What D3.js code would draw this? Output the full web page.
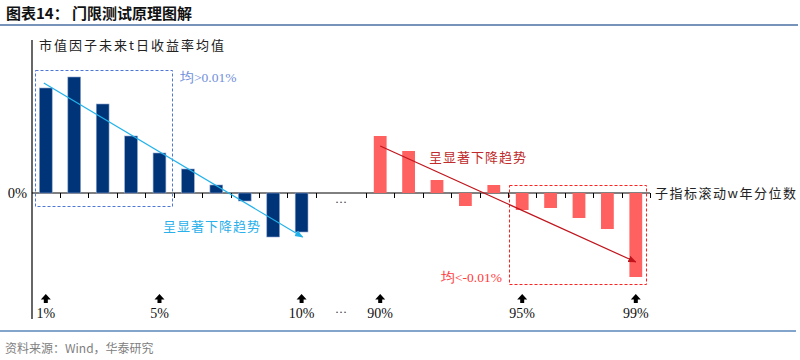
<!DOCTYPE html>
<html><head><meta charset="utf-8">
<script src="https://cdn.jsdelivr.net/npm/d3@7/dist/d3.min.js"></script>
<style>
html,body{margin:0;padding:0;background:#fff;}
svg{display:block;}
</style></head>
<body>
<script>
// ---- data ----
const blueCats = ["1%","2%","3%","4%","5%","6%","7%","8%","9%","10%"];
const blueValues = [0.105, 0.116, 0.089, 0.057, 0.040, 0.024, 0.008, -0.008, -0.044, -0.039];
const redCats = ["90%","91%","92%","93%","94%","95%","96%","97%","98%","99%"];
const redValues = [0.057, 0.042, 0.013, -0.013, 0.008, -0.017, -0.015, -0.025, -0.036, -0.084];
const markerLabels = ["1%","5%","10%","90%","95%","99%"];
const blueTrend = [{c:"1%", v:0.110}, {c:"10%", v:-0.044}];
const redTrend = [{c:"90%", v:0.047}, {c:"99%", v:-0.069}];
const yTickLabels = ["0%"];

const W = 800, H = 360;
const svg = d3.select("body").append("svg").attr("width", W).attr("height", H);
const CJK = "'Noto Sans CJK SC', 'Noto Sans', sans-serif";
const SERIF = "'Liberation Serif', 'DejaVu Serif', serif";
const px = v => Math.round(v) + 0.5;

// Title
svg.append("text").attr("x", 6).attr("y", 19)
  .attr("font-family", CJK).attr("font-weight", "bold").attr("font-size", 15)
  .attr("fill", "#111").text("图表14：  门限测试原理图解");
svg.append("line").attr("x1", 0).attr("x2", 798).attr("y1", 25).attr("y2", 25)
  .attr("stroke", "#4b6fa3").attr("stroke-width", 1.5);

// Scales
const y = d3.scaleLinear().domain([-0.126, 0.153]).range([319, 40]);
const xBlue = d3.scaleBand().domain(blueCats).range([31.6, 315.8]).paddingInner(0.55).paddingOuter(0.275);
const xRed = d3.scaleBand().domain(redCats).range([366, 650]).paddingInner(0.55).paddingOuter(0.275);
const cx = (s, c) => s(c) + s.bandwidth() / 2;

// Axes lines
svg.append("line").attr("x1", 32).attr("x2", 32).attr("y1", y.range()[1]).attr("y2", y.range()[0])
  .attr("stroke", "#000").attr("stroke-width", 1.2);
svg.append("line").attr("x1", 32).attr("x2", 650).attr("y1", y(0)).attr("y2", y(0))
  .attr("stroke", "#000").attr("stroke-width", 1);

// ticks at band boundaries
function ticks(s, withStart) {
  const step = s.step();
  const arr = s.domain().map(c => cx(s, c) + step / 2);
  if (withStart) arr.unshift(cx(s, s.domain()[0]) - step / 2);
  return arr;
}
const tickX = ticks(xBlue, false).concat(ticks(xRed, true));
svg.selectAll(".tk").data(tickX).enter().append("line")
  .attr("x1", d => px(d)).attr("x2", d => px(d)).attr("y1", y(0)).attr("y2", y(0) + 5)
  .attr("stroke", "#000").attr("stroke-width", 1);

// Y labels
svg.append("text").attr("x", 27).attr("y", y(0) + 5)
  .attr("text-anchor", "end")
  .attr("font-family", SERIF).attr("font-size", 14.5).attr("fill", "#111").text(yTickLabels[0]);
svg.append("text").attr("x", 39).attr("y", 50)
  .attr("font-family", CJK).attr("font-size", 13).attr("letter-spacing", 2)
  .attr("fill", "#222").text("市值因子未来t日收益率均值");
svg.append("text").attr("x", 655).attr("y", y(0) + 5)
  .attr("font-family", CJK).attr("font-size", 13).attr("letter-spacing", 1.5)
  .attr("fill", "#222").text("子指标滚动w年分位数");

// Bars
svg.selectAll(".bb").data(blueCats).enter().append("rect")
  .attr("x", d => xBlue(d)).attr("width", xBlue.bandwidth())
  .attr("y", (d, i) => y(Math.max(0, blueValues[i])))
  .attr("height", (d, i) => Math.abs(y(blueValues[i]) - y(0)))
  .attr("fill", "#003478").attr("stroke", "#8fa6cf").attr("stroke-width", 0.6);
svg.selectAll(".rb").data(redCats).enter().append("rect")
  .attr("x", d => xRed(d)).attr("width", xRed.bandwidth())
  .attr("y", (d, i) => y(Math.max(0, redValues[i])))
  .attr("height", (d, i) => Math.abs(y(redValues[i]) - y(0)))
  .attr("fill", "#ff6161");

// ellipsis in gap
const gapX = (xBlue.range()[1] + xRed.range()[0]) / 2;
svg.append("text").attr("x", gapX).attr("y", y(0) + 13).attr("text-anchor", "middle")
  .attr("font-family", SERIF).attr("font-size", 12).attr("fill", "#333").text("···");

// Dashed boxes
function box(x0, x1, y0, y1, color) {
  const a = px(x0), b = px(x1), c = px(y0), d = px(y1);
  svg.append("rect").attr("x", a).attr("y", c).attr("width", b - a).attr("height", d - c)
    .attr("fill", "none").attr("stroke", color).attr("stroke-width", 1).attr("stroke-dasharray", "3,2");
}
box(xBlue(blueCats[0]) - 4, xBlue(blueCats[4]) + xBlue.bandwidth() + 6, y(0.123), y(-0.0127), "#4f78d6");
box(xRed(redCats[5]) - 7, xRed(redCats[9]) + xRed.bandwidth() + 4, y(0.008), y(-0.091), "#ff2020");

// Box labels
svg.append("text").attr("x", 180).attr("y", 82)
  .attr("font-family", SERIF).attr("font-size", 13.5).attr("fill", "#6f8fdb").text("均>0.01%");
svg.append("text").attr("x", 441).attr("y", 282)
  .attr("font-family", SERIF).attr("font-size", 13.5).attr("fill", "#ff3b3b").text("均<-0.01%");

// Trend arrows
const defs = svg.append("defs");
function marker(id, color) {
  defs.append("marker").attr("id", id).attr("viewBox", "0 0 10 10").attr("refX", 9).attr("refY", 5)
    .attr("markerWidth", 7).attr("markerHeight", 7).attr("orient", "auto")
    .append("path").attr("d", "M0,1 L10,5 L0,9 Z").attr("fill", color);
}
marker("ab", "#22b2ea");
marker("ar", "#c0151c");
svg.append("line")
  .attr("x1", cx(xBlue, blueTrend[0].c) - 2).attr("y1", y(blueTrend[0].v))
  .attr("x2", cx(xBlue, blueTrend[1].c) + 1).attr("y2", y(blueTrend[1].v))
  .attr("stroke", "#22b2ea").attr("stroke-width", 1.2).attr("marker-end", "url(#ab)");
svg.append("line")
  .attr("x1", cx(xRed, redTrend[0].c)).attr("y1", y(redTrend[0].v))
  .attr("x2", cx(xRed, redTrend[1].c)).attr("y2", y(redTrend[1].v))
  .attr("stroke", "#c0151c").attr("stroke-width", 1.2).attr("marker-end", "url(#ar)");

svg.append("text").attr("x", 163).attr("y", 231)
  .attr("font-family", CJK).attr("font-size", 13).attr("letter-spacing", 1)
  .attr("fill", "#2ab0ea").text("呈显著下降趋势");
svg.append("text").attr("x", 429).attr("y", 162)
  .attr("font-family", CJK).attr("font-size", 13).attr("letter-spacing", 1)
  .attr("fill", "#c02a2a").text("呈显著下降趋势");

// Bottom markers
const markerPos = markerLabels.map(l => blueCats.includes(l) ? cx(xBlue, l) : cx(xRed, l));
const mg = svg.selectAll(".mk").data(markerLabels).enter().append("g")
  .attr("transform", (d, i) => `translate(${markerPos[i]},0)`);
mg.append("path").attr("d", "M-5,299.5 L0,294 L5,299.5 L2,299.5 L2,303 L-2,303 L-2,299.5 Z").attr("fill", "#000");
mg.append("text").attr("y", 318).attr("text-anchor", "middle")
  .attr("font-family", SERIF).attr("font-size", 14).attr("fill", "#111").text(d => d);
svg.append("text").attr("x", gapX).attr("y", 316).attr("text-anchor", "middle")
  .attr("font-family", SERIF).attr("font-size", 12).attr("fill", "#333").text("···");

// Footer
svg.append("line").attr("x1", 0).attr("x2", 796).attr("y1", 331).attr("y2", 331)
  .attr("stroke", "#5a86ba").attr("stroke-width", 1.3);
svg.append("text").attr("x", 5).attr("y", 353)
  .attr("font-family", CJK).attr("font-size", 12).attr("fill", "#808080").text("资料来源：Wind，华泰研究");
</script>
</body></html>
